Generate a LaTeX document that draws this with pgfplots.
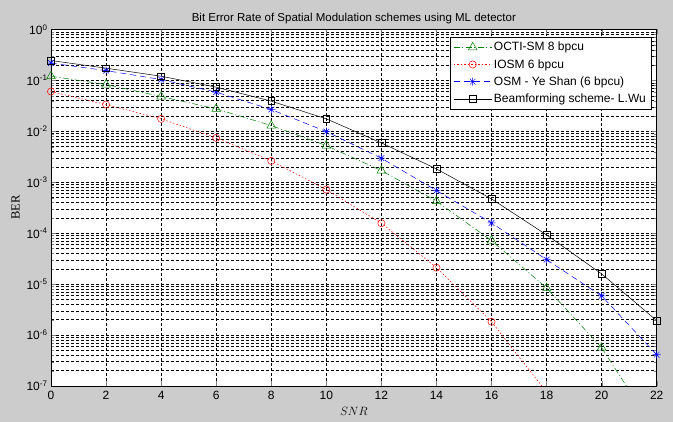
\documentclass[border=0pt]{standalone}
\usepackage{fontspec}
\setmainfont{Liberation Sans}
\newfontfamily\seriffont{Liberation Serif}
\usepackage{pgfplots}
\pgfplotsset{compat=1.18}
\definecolor{figgray}{RGB}{204,204,204}
\definecolor{mgreen}{RGB}{0,128,0}
\pgfdeclareplotmark{mstar}{%
  \pgfpathmoveto{\pgfqpoint{-\pgfplotmarksize}{0pt}}\pgfpathlineto{\pgfqpoint{\pgfplotmarksize}{0pt}}%
  \pgfpathmoveto{\pgfqpoint{0pt}{-\pgfplotmarksize}}\pgfpathlineto{\pgfqpoint{0pt}{\pgfplotmarksize}}%
  \pgfpathmoveto{\pgfqpoint{-0.707\pgfplotmarksize}{-0.707\pgfplotmarksize}}\pgfpathlineto{\pgfqpoint{0.707\pgfplotmarksize}{0.707\pgfplotmarksize}}%
  \pgfpathmoveto{\pgfqpoint{-0.707\pgfplotmarksize}{0.707\pgfplotmarksize}}\pgfpathlineto{\pgfqpoint{0.707\pgfplotmarksize}{-0.707\pgfplotmarksize}}%
  \pgfusepathqstroke}
\begin{document}
\begin{tikzpicture}
\fill[figgray] (0,0) rectangle (673pt,422pt);
\begin{axis}[
  at={(51pt,36pt)}, anchor=south west,
  scale only axis, width=605.7pt, height=356.5pt,
  xmin=0, xmax=22, ymin=1e-7, ymax=1,
  ymode=log,
  axis background/.style={fill=white},
  xtick={0,2,...,22},
  ytick={1e-7,1e-6,1e-5,1e-4,1e-3,1e-2,1e-1,1},
  yticklabels={10\textsuperscript{-7},10\textsuperscript{-6},10\textsuperscript{-5},10\textsuperscript{-4},10\textsuperscript{-3},10\textsuperscript{-2},10\textsuperscript{-1},10\textsuperscript{0}},
  /pgf/number format/assume math mode=true,
  ticklabel style={font=\fontsize{12}{14}\selectfont},
  xticklabel style={yshift=-2pt},
  tick align=inside,
  major tick length=5pt, minor tick length=3pt,
  xmajorgrids, ymajorgrids, yminorgrids,
  major grid style={black, line width=0.5pt, dash pattern=on 3pt off 2pt},
  minor grid style={black, line width=0.5pt, dash pattern=on 3pt off 2pt},
  axis line style={black, line width=0.6pt},
  clip marker paths=false,
  title={Bit Error Rate of Spatial Modulation schemes using ML detector},
  title style={font=\fontsize{11.5}{13}\selectfont, at={(0.5,1)}, anchor=south, yshift=-4pt},
  xlabel={$SNR$},
  xlabel style={font=\fontsize{12}{14}\selectfont, yshift=0pt},
  ylabel={\seriffont BER},
  ylabel style={font=\fontsize{12.5}{14}\selectfont, yshift=0pt},
  legend style={at={(0.9906,0.979)}, anchor=north east, draw=black, fill=white,
    font=\fontsize{12}{14}\selectfont, row sep=3pt, inner xsep=3pt, inner ysep=3pt, cells={anchor=west}},
  legend image code/.code={\draw[mark repeat=2, mark phase=2] plot coordinates {(0pt,0pt) (19pt,0pt) (38pt,0pt)};},
]
\addplot[mgreen, line width=0.5pt, dash pattern=on 6pt off 2.5pt on 1pt off 2.5pt, mark=triangle, mark size=5pt, mark options={solid}]
coordinates {(0,0.121) (2,0.083) (4,0.0483) (6,0.0277) (8,0.0130) (10,0.00526) (12,0.0017) (14,4.25e-4) (16,7.16e-5) (18,8.41e-6) (20,5.65e-7)};
\addlegendentry{OCTI-SM 8 bpcu}
\addplot[red, line width=0.5pt, dash pattern=on 1.5pt off 2pt, mark=o, mark size=3.6pt, mark options={solid}]
coordinates {(0,0.0605) (2,0.0336) (4,0.0176) (6,0.00745) (8,0.00263) (10,7.19e-4) (12,1.57e-4) (14,2.11e-5) (16,1.83e-6)};
\addlegendentry{IOSM 6 bpcu}
\addplot[blue, line width=0.5pt, dash pattern=on 6pt off 4pt, mark=mstar, mark size=4pt, mark options={solid}]
coordinates {(0,0.219) (2,0.156) (4,0.104) (6,0.0589) (8,0.0268) (10,0.0099) (12,0.00297) (14,6.87e-4) (16,1.59e-4) (18,3.03e-5) (20,5.86e-6) (22,4.12e-7)};
\addlegendentry{OSM - Ye Shan  (6 bpcu)}
\addplot[black, line width=0.5pt, solid, mark=square, mark size=3.4pt]
coordinates {(0,0.246) (2,0.174) (4,0.121) (6,0.0738) (8,0.0392) (10,0.0176) (12,0.00594) (14,0.00183) (16,4.72e-4) (18,9.27e-5) (20,1.59e-5) (22,1.92e-6)};
\addlegendentry{Beamforming scheme- L.Wu}
% segments that leave the axis below its lower limit (no markers there)
\addplot[forget plot, mgreen, line width=0.5pt, dash pattern=on 6pt off 2.5pt on 1pt off 2.5pt]
coordinates {(20,5.65e-7) (22,1.2e-8)};
\addplot[forget plot, red, line width=0.5pt, dash pattern=on 1.5pt off 2pt]
coordinates {(16,1.83e-6) (18,7.6e-8)};
\end{axis}
\pgfresetboundingbox
\useasboundingbox (0,0) rectangle (673pt,422pt);
\end{tikzpicture}
\end{document}
